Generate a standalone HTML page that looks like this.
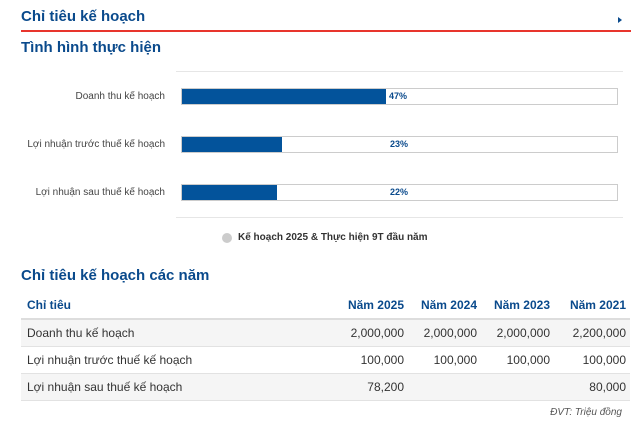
<!DOCTYPE html>
<html><head><meta charset="utf-8"><style>
body{margin:0;width:640px;height:432px;background:#fff;font-family:"Liberation Sans",sans-serif;position:relative;overflow:hidden}
.a{position:absolute}
.t{color:#0a4a8c;font-weight:bold}
.lab{position:absolute;right:475px;font-size:10px;color:#444;text-align:right;white-space:nowrap}
.bar{position:absolute;left:181px;width:435px;height:15px;border:1px solid #ccc;background:#fff}
.fill{position:absolute;left:0;top:0;height:15px;background:#03539b}
.pct{position:absolute;top:2px;font-size:9px;font-weight:bold;color:#0a4a8c}
table{position:absolute;left:21px;top:292px;width:609px;border-collapse:collapse;font-size:12px;color:#333;table-layout:fixed}
th{color:#0a4a8c;font-weight:bold;height:26px;text-align:right;padding:0 4px;border-bottom:2px solid #ddd}
td{height:26px;text-align:right;padding:0 4px;border-bottom:1px solid #e2e2e2}
tr.g td{background:#f5f5f5}
th:first-child,td:first-child{text-align:left;padding-left:6px}
</style></head><body>
<div class="a t" style="left:21px;top:8px;font-size:15px">Chỉ tiêu kế hoạch</div>
<div class="a" style="left:618px;top:17px;width:0;height:0;border-left:4px solid #0a4a8c;border-top:3px solid transparent;border-bottom:3px solid transparent"></div>
<div class="a" style="left:21px;top:30px;width:610px;height:2px;background:#e8352d"></div>
<div class="a t" style="left:21px;top:39px;font-size:15px">Tình hình thực hiện</div>
<div class="a" style="left:176px;top:71px;width:447px;height:1px;background:#e6e6e6"></div>
<div class="a" style="left:176px;top:217px;width:447px;height:1px;background:#e6e6e6"></div>
<div class="lab" style="top:91px">Doanh thu kế hoạch</div>
<div class="lab" style="top:139px">Lợi nhuận trước thuế kế hoạch</div>
<div class="lab" style="top:187px">Lợi nhuận sau thuế kế hoạch</div>
<div class="bar" style="top:88px"><div class="fill" style="width:204px"></div><div class="pct" style="left:207px">47%</div></div>
<div class="bar" style="top:136px"><div class="fill" style="width:100px"></div><div class="pct" style="left:208px">23%</div></div>
<div class="bar" style="top:184px"><div class="fill" style="width:95px"></div><div class="pct" style="left:208px">22%</div></div>
<div class="a" style="left:222px;top:233px;width:10px;height:10px;border-radius:50%;background:#ccc"></div>
<div class="a" style="left:238px;top:232px;font-size:10px;font-weight:bold;color:#333">Kế hoạch 2025 &amp; Thực hiện 9T đầu năm</div>
<div class="a t" style="left:21px;top:267px;font-size:15px">Chỉ tiêu kế hoạch các năm</div>
<table>
<colgroup><col style="width:314px"><col style="width:73px"><col style="width:73px"><col style="width:73px"><col style="width:76px"></colgroup>
<tr><th>Chỉ tiêu</th><th>Năm 2025</th><th>Năm 2024</th><th>Năm 2023</th><th>Năm 2021</th></tr>
<tr class="g"><td>Doanh thu kế hoạch</td><td>2,000,000</td><td>2,000,000</td><td>2,000,000</td><td>2,200,000</td></tr>
<tr><td>Lợi nhuận trước thuế kế hoạch</td><td>100,000</td><td>100,000</td><td>100,000</td><td>100,000</td></tr>
<tr class="g"><td>Lợi nhuận sau thuế kế hoạch</td><td>78,200</td><td></td><td></td><td>80,000</td></tr>
</table>
<div class="a" style="right:18px;top:407px;font-size:10px;font-style:italic;color:#555">ĐVT: Triệu đồng</div>
</body></html>
